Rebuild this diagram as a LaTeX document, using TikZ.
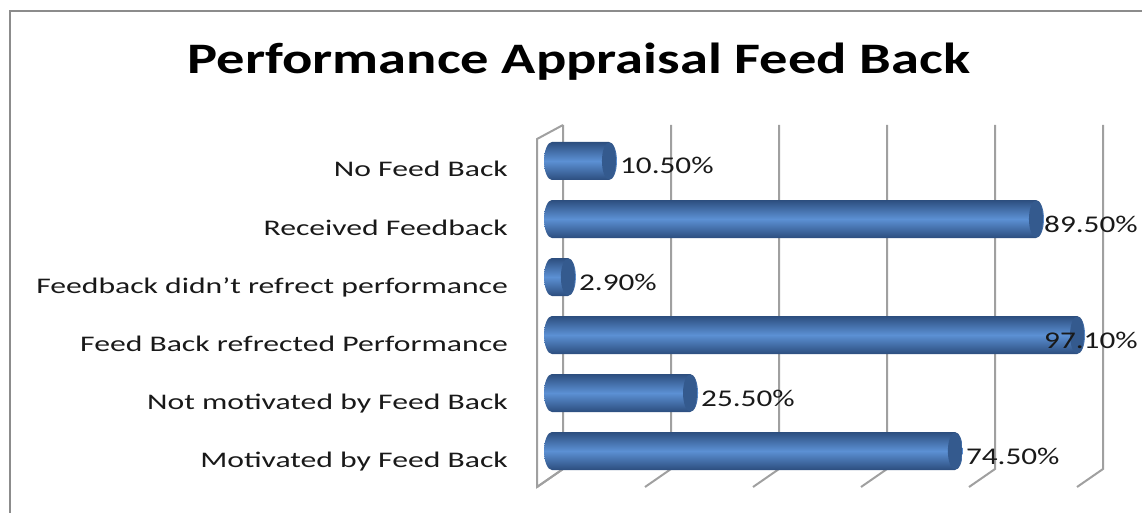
\documentclass[tikz,border=0pt]{standalone}
\usepackage{fontspec}
\setmainfont{Carlito}
\newfontfamily\titlefont[FakeStretch=1.3]{Carlito}
\newfontfamily\catfont[FakeStretch=1.42]{Carlito}
\newfontfamily\valfont[FakeStretch=1.3]{Carlito}
\definecolor{barlight}{RGB}{92,144,212}
\definecolor{bardark}{RGB}{44,78,126}
\definecolor{barend}{RGB}{52,90,142}
\definecolor{gridgray}{RGB}{160,160,160}
\definecolor{framegray}{RGB}{140,140,140}

\begin{document}
\begin{tikzpicture}[x=1pt,y=-1pt,
  grid/.style={gridgray,line width=2pt},
  frame/.style={framegray,line width=2pt},
  bar/.style={top color=bardark,bottom color=bardark,middle color=barlight},
  barcap/.style={fill=barend},
  catlbl/.style={anchor=base east,inner sep=0pt,text=black!90,font=\catfont\fontsize{22.3}{26}\selectfont},
  vallbl/.style={anchor=base west,inner sep=0pt,text=black!90,font=\valfont\fontsize{24}{28}\selectfont}]
\useasboundingbox (0,0) rectangle (1142,513);
\draw[frame] (1142,11) -- (10,11) -- (10,513);
\node[anchor=base,inner sep=0pt,font=\titlefont\bfseries\fontsize{43.5}{50}\selectfont] (title) at (579,74) {Performance Appraisal Feed Back};
% walls and grid
\draw[grid] (563,469) -- (537,487) -- (537,139) -- (563,125);
\foreach \x in {563,671,779,887,995,1103} {
   \draw[grid] (\x,125) -- (\x,469) -- (\x-26,487);
}
% bars
\foreach \i/\val/\txt/\lab in %
{0/10.5/10.50/No Feed Back,1/89.5/89.50/Received Feedback,2/2.9/2.90/Feedback didn’t refrect performance,3/97.1/97.10/Feed Back refrected Performance,4/25.5/25.50/Not motivated by Feed Back,5/74.5/74.50/Motivated by Feed Back} {
   \pgfmathsetmacro\yc{161+58*\i}
   \pgfmathsetmacro\xe{552.2+5.405*\val}
   \pgfmathsetmacro\xl{min(\xe+11,1044)}
   \shade[bar] (552,\yc-19) -- (\xe,\yc-19) arc[start angle=270,end angle=450,x radius=8,y radius=19] -- (552,\yc+19) arc[start angle=90,end angle=270,x radius=8,y radius=19] -- cycle;
   \fill[barcap] (\xe,\yc) ellipse[x radius=7,y radius=18.5];
   \node[catlbl] (c\i) at (508,\yc+16) {\lab};
   \node[vallbl] (v\i) at (\xl,\yc+13) {\txt\%};
}
\end{tikzpicture}
\end{document}
